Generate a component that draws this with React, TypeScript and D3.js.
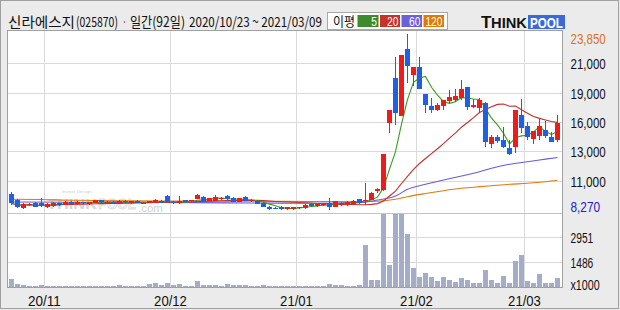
import React, { useLayoutEffect, useRef, useState } from "react";
import * as d3 from "d3";

// ---------- DATA ----------
const stockName = "신라에스지";
const stockCode = "(025870)";
const periodText = "일간(92일)";
const rangeText = "2020/10/23 ~ 2021/03/09";

const monthLabels = ["20/10", "20/11", "20/12", "21/01", "21/02", "21/03"];
const monthDays = [
  [23, 26, 27, 28, 29, 30],
  [2, 3, 4, 5, 6, 9, 10, 11, 12, 13, 16, 17, 18, 19, 20, 23, 24, 25, 26, 27, 30],
  [1, 2, 3, 4, 7, 8, 9, 10, 11, 14, 15, 16, 17, 18, 21, 22, 23, 24, 28, 29, 30],
  [4, 5, 6, 7, 8, 11, 12, 13, 14, 15, 18, 19, 20, 21, 22, 25, 26, 27, 28, 29],
  [1, 2, 3, 4, 5, 8, 9, 10, 15, 16, 17, 18, 19, 22, 23, 24, 25, 26],
  [2, 3, 4, 5, 8, 9],
];

const opens = [
  9690, 9160, 8420, 8670, 8920, 8920, 8510, 8630, 8860, 8740,
  8980, 8780, 8950, 8800, 8920, 9130, 8890, 9010, 8860, 9070,
  8860, 9070, 8920, 8890, 8920, 9090, 9510, 9010, 8860, 9160,
  9040, 9270, 9450, 9090, 9090, 9250, 9510, 9310, 9010, 9450,
  9070, 9090, 8920, 8560, 8470, 8560, 8330, 8330, 8420, 8420,
  8800, 8630, 8710, 8860, 8560, 8710, 8710, 8800, 9220, 9040,
  9180, 9930, 10070, 15950, 19950, 16600, 22550, 20200, 20900, 18550,
  17500, 17150, 17500, 17950, 18050, 18150, 19150, 17400, 17300, 17700,
  14100, 14700, 14450, 13750, 13850, 16700, 15700, 14550, 14800, 15350,
  14700, 14500,
];
const highs = [
  9890, 9200, 8850, 8890, 8980, 9310, 8850, 8980, 8920, 9070,
  9070, 9040, 9010, 9010, 9180, 9160, 9070, 9090, 9160, 9130,
  9090, 9130, 8980, 9090, 9220, 9160, 9600, 9070, 9480, 9180,
  9180, 9690, 9510, 9250, 9600, 9400, 9630, 9420, 9360, 9510,
  9220, 9160, 9010, 8650, 8540, 8650, 8540, 8540, 8560, 8830,
  8860, 8860, 8860, 9310, 9090, 8980, 9040, 9130, 9270, 10660,
  9860, 10250, 13200, 17150, 21850, 21950, 23850, 20900, 21850, 18550,
  18200, 17750, 18050, 18900, 19000, 19800, 19150, 18100, 18150, 17800,
  14900, 14900, 15650, 14450, 17150, 18100, 16100, 15250, 16300, 16150,
  15200, 16700,
];
const lows = [
  8710, 8450, 8330, 8580, 8510, 8560, 8450, 8560, 8650, 8710,
  8740, 8710, 8800, 8740, 8860, 8890, 8830, 8860, 8800, 8890,
  8830, 8890, 8830, 8860, 8890, 8890, 8980, 8800, 8800, 8980,
  8980, 9220, 9070, 9040, 9040, 9180, 9180, 8980, 8980, 9070,
  9010, 8780, 8540, 8270, 8330, 8300, 8300, 8300, 8360, 8360,
  8560, 8560, 8650, 8300, 8540, 8650, 8650, 8780, 8830, 8740,
  9130, 9780, 9930, 15100, 15800, 16550, 19500, 19250, 19000, 16900,
  16850, 17000, 17100, 17750, 17850, 18000, 17100, 17300, 16950, 13850,
  13800, 14200, 13750, 13150, 13350, 15050, 14450, 14100, 14450, 14600,
  14300, 14300,
];
const closes = [
  8860, 8510, 8780, 8800, 8560, 8630, 8800, 8920, 8710, 9010,
  8800, 8980, 8860, 8950, 9160, 8950, 9010, 8920, 9070, 8950,
  9070, 8920, 8860, 9070, 9160, 8920, 9010, 8860, 9040, 9010,
  9160, 9570, 9090, 9310, 9400, 9310, 9220, 9010, 9310, 9090,
  9160, 8800, 8560, 8330, 8360, 8330, 8510, 8510, 8510, 8710,
  8630, 8800, 8860, 8560, 9070, 8920, 9010, 9070, 8860, 9180,
  9780, 10150, 13200, 17150, 16900, 21950, 21000, 20900, 19000, 17600,
  17150, 17550, 18000, 18250, 18350, 18950, 17400, 17550, 18000, 14300,
  14750, 14400, 13850, 13200, 17150, 15550, 14700, 15250, 15700, 14850,
  14300, 16000,
];
// volume in thousands of shares
const volumes = [
  505, 210, 150, 90, 90, 150, 80, 80, 80, 90,
  80, 80, 80, 80, 90, 80, 80, 80, 150, 90,
  90, 80, 90, 210, 285, 150, 285, 150, 210, 100,
  100, 390, 150, 150, 150, 90, 210, 150, 150, 150,
  100, 90, 150, 90, 90, 80, 80, 80, 80, 90,
  80, 80, 90, 210, 150, 150, 90, 90, 150, 2470,
  446, 446, 6800, 1338, 7500, 5600, 3120, 1142, 606, 844,
  606, 386, 643, 446, 310, 583, 446, 270, 270, 1000,
  446, 235, 684, 235, 1535, 1891, 386, 270, 803, 270,
  270, 583,
];

// long moving averages: [day index, price]
const ma60Read = [
  [0, 8980], [10, 8950], [20, 8935], [30, 8920], [40, 8890], [50, 8865], [58, 8920],
  [61, 9155], [64, 9500], [66, 10100], [69, 10545], [72, 10925], [75, 11280],
  [78, 11660], [80, 11960], [83, 12315], [86, 12545], [89, 12770], [91, 12920],
];
const ma120Read = [
  [0, 9220], [5, 9200], [10, 9130], [20, 9085], [30, 9065], [40, 9040], [50, 9025],
  [58, 9005], [61, 9040], [64, 9220], [66, 9450], [69, 9730], [72, 9980], [75, 10190],
  [78, 10335], [80, 10420], [83, 10545], [86, 10635], [89, 10775], [91, 10900],
];

const priceMax = 23850;
const priceMin = 8270;
const priceMaxLabel = "23,850";
const priceMinLabel = "8,270";
const priceGridLabels = ["21,000", "19,000", "16,000", "13,000", "11,000"];
const volScaleMax = 4307;
const volGridValues = [2951, 1486];
const volUnitLabel = "x1000";
const legendTitle = "이평";
const legendLabels = ["5", "20", "60", "120"];
const maPeriods = [5, 20];

// ---------- STYLE ----------
const RED = "#f01a1a";
const BLUE = "#1f5fe2";
const MA_COLORS = ["#3d9a22", "#c0302c", "#6a58e0", "#e07810"];
const LEGEND_COLORS = ["#3d8b2a", "#c8322c", "#6b5fdc", "#dd7a0a"];
const GRID = "#dadada";
const BG = "#ebebeb";
const FRAME = "#a0a0a0";
const NUM_FONT = "'Liberation Sans', Arial, sans-serif";
const KR_FONT = "'Noto Sans CJK KR', 'Noto Sans', sans-serif";

const charW: Record<string, number> = { ",": 6.8, x: 6.5, "/": 10, ".": 3, " ": 4 };
const numWidth = (s: string) => s.split("").reduce((a, ch) => a + (charW[ch] ?? 5.7), 0);

// text squeezed horizontally to a target width (narrow bitmap-style font look)
function FitText(props: {
  x: number;
  y: number;
  width: number;
  children: React.ReactNode;
  fontFamily?: string;
  fontSize?: number;
  fontWeight?: string;
  fill?: string;
  stroke?: string;
  strokeWidth?: number;
}) {
  const { x, y, width, children, ...rest } = props;
  const ref = useRef<SVGTextElement>(null);
  const [s, setS] = useState(1);
  useLayoutEffect(() => {
    if (ref.current) {
      const n = ref.current.getComputedTextLength();
      if (n > 0) setS(width / n);
    }
  }, [width, children]);
  return (
    <text ref={ref} transform={`translate(${x},${y}) scale(${s},1)`} {...rest}>
      {children}
    </text>
  );
}

export default function App() {
  const W = 620, H = 310;
  const plotL = 7.5, plotR = 562.5, plotT = 30.5, priceB = 213.5, volB = 287.5;

  const dates = monthLabels.flatMap((m, k) =>
    monthDays[k].map((d) => `${m}/${String(d).padStart(2, "0")}`)
  );
  const idx = d3.range(dates.length);
  const x = d3.scaleBand<number>().domain(idx).range([8.5, 560.5]).padding(0);
  const xc = (i: number) => (x(i) as number) + x.bandwidth() / 2;
  const yP = d3.scaleLinear().domain([priceMin, priceMax]).range([210, 34]);
  const yV = d3.scaleLinear().domain([0, volScaleMax]).range([volB, 214]);

  const monthTicks = idx.filter((i) => i > 0 && dates[i].slice(0, 5) !== dates[i - 1].slice(0, 5));

  const maComputed = maPeriods.map((n) =>
    closes.map((_, i) => d3.mean(closes.slice(Math.max(0, i - n + 1), i + 1)) as number)
  );
  const lineIdx = d3
    .line<number>()
    .x((_, i) => xc(i))
    .y((v) => yP(v));
  const lineRead = d3
    .line<number[]>()
    .x((d) => xc(d[0]))
    .y((d) => yP(d[1]))
    .curve(d3.curveMonotoneX);

  const gridVals = d3.range(1, 6).map((k) => priceMax - (k * (priceMax - priceMin)) / 6);

  const legendBoxes = [
    { x: 357.5, w: 21 },
    { x: 380, w: 20 },
    { x: 401.5, w: 20.5 },
    { x: 423.5, w: 20.5 },
  ];

  return (
    <svg
      width={W}
      height={H}
      viewBox={`0 0 ${W} ${H}`}
      style={{ position: "absolute", left: 0, top: 0, display: "block" }}
    >
      <defs>
        <clipPath id="pricePane">
          <rect x={8} y={31} width={554} height={182} />
        </clipPath>
        <clipPath id="volPane">
          <rect x={8} y={214} width={554} height={73.5} />
        </clipPath>
      </defs>
      <rect x={0} y={0} width={W} height={H} fill={BG} />
      <rect x={0.5} y={0.5} width={618} height={308} fill="none" stroke={FRAME} strokeWidth={1} />

      {/* header */}
      <g fontFamily={KR_FONT} fontSize={14} fill="#111">
        <FitText x={8} y={26.5} width={67}>{stockName}</FitText>
        <FitText x={76} y={26.5} width={42}>{stockCode}</FitText>
        <FitText x={123} y={26.5} width={3}>·</FitText>
        <FitText x={130} y={26.5} width={55}>{periodText}</FitText>
        <FitText x={189} y={26.5} width={133}>{rangeText}</FitText>
      </g>

      {/* MA legend */}
      <rect x={327.5} y={12.5} width={120} height={17} fill="#fff" stroke="#a8a8a8" />
      <FitText x={333} y={26} width={22} fontFamily={KR_FONT} fontSize={13} fill="#111">
        {legendTitle}
      </FitText>
      {legendLabels.map((lab, k) => (
        <g key={lab}>
          <rect x={legendBoxes[k].x} y={15} width={legendBoxes[k].w} height={12} fill={LEGEND_COLORS[k]} />
          <FitText
            x={legendBoxes[k].x + legendBoxes[k].w - 1.5 - numWidth(lab)}
            y={26}
            width={numWidth(lab)}
            fontFamily={NUM_FONT}
            fontSize={13}
            fill="#fff"
          >
            {lab}
          </FitText>
        </g>
      ))}

      {/* logo */}
      <g fontFamily={NUM_FONT} fontWeight="bold">
        <text x={481} y={28} fontSize={17} fill="#111">T</text>
        <FitText x={491} y={28} width={36} fontSize={14} fill="#111">HINK</FitText>
        <rect x={528} y={15} width={37} height={14} fill="#3a6ad8" />
        <FitText x={530} y={28} width={33} fontSize={15} fill="#fff">POOL</FitText>
      </g>

      {/* plot background */}
      <rect x={plotL} y={plotT} width={plotR - plotL} height={volB - plotT} fill="#fff" />

      {/* grid */}
      {gridVals.map((v, k) => (
        <line key={k} x1={8} x2={562} y1={Math.round(yP(v)) + 0.5} y2={Math.round(yP(v)) + 0.5} stroke={GRID} />
      ))}
      {volGridValues.map((v) => (
        <line key={v} x1={8} x2={562} y1={Math.round(yV(v)) + 0.5} y2={Math.round(yV(v)) + 0.5} stroke={GRID} />
      ))}
      {monthTicks.map((i) => (
        <line key={i} x1={x(i) as number} x2={x(i) as number} y1={31} y2={287} stroke={GRID} />
      ))}

      {/* watermark */}
      <g>
        <FitText x={62} y={193} width={30} fontFamily={NUM_FONT} fontSize={3.5} fill="#cfcfcf">Invest Design</FitText>
        <FitText x={47} y={209} width={50} fontFamily={NUM_FONT} fontWeight="bold" fontSize={15} fill="#d6d6d6">THINK</FitText>
        <FitText x={98} y={209} width={38} fontFamily={NUM_FONT} fontWeight="bold" fontSize={15} fill="#f2f2f2" stroke="#dcdcdc" strokeWidth={0.8}>POOL</FitText>
        <FitText x={138} y={212} width={25} fontFamily={NUM_FONT} fontSize={11} fill="#d0d0d0">.com</FitText>
      </g>

      {/* volume bars */}
      <g clipPath="url(#volPane)" shapeRendering="crispEdges">
        {volumes.map((v, i) => (
          <rect key={i} x={xc(i) - 2.5} y={yV(v)} width={5} height={volB - yV(v)} fill="#a4acc8" />
        ))}
      </g>

      {/* moving averages */}
      <g clipPath="url(#pricePane)" fill="none" strokeWidth={1.1}>
        <path d={lineRead(ma120Read) || ""} stroke={MA_COLORS[3]} />
        <path d={lineRead(ma60Read) || ""} stroke={MA_COLORS[2]} />
        <path d={lineIdx(maComputed[1]) || ""} stroke={MA_COLORS[1]} />
        <path d={lineIdx(maComputed[0]) || ""} stroke={MA_COLORS[0]} />
      </g>

      {/* candles */}
      <g clipPath="url(#pricePane)" shapeRendering="crispEdges">
        {idx.map((i) => {
          const o = opens[i], c = closes[i], h = highs[i], l = lows[i];
          const col = c >= o ? RED : BLUE;
          const cx = xc(i);
          const top = yP(Math.max(o, c));
          const bot = yP(Math.min(o, c));
          return (
            <g key={i} fill={col}>
              <rect x={cx - 0.5} y={yP(h)} width={1} height={Math.max(1, yP(l) - yP(h))} />
              <rect x={cx - 2.5} y={top} width={5} height={Math.max(1, bot - top)} />
            </g>
          );
        })}
      </g>

      {/* pane separator and frame */}
      <line x1={8} x2={562} y1={priceB} y2={priceB} stroke="#c4c4c4" />
      <rect x={plotL} y={plotT} width={plotR - plotL} height={volB - plotT} fill="none" stroke={FRAME} />

      {/* right axis labels */}
      <g fontFamily={NUM_FONT} fontSize={14}>
        <FitText x={570.5} y={43.5} width={numWidth(priceMaxLabel)} fill="#d9731b">
          {priceMaxLabel}
        </FitText>
        {gridVals.map((v, k) => (
          <FitText key={k} x={570.5} y={yP(v) + 6} width={numWidth(priceGridLabels[k])} fill="#111">
            {priceGridLabels[k]}
          </FitText>
        ))}
        <FitText x={570.5} y={211.5} width={numWidth(priceMinLabel)} fill="#2222c8">
          {priceMinLabel}
        </FitText>
        {volGridValues.map((v) => (
          <FitText key={v} x={570.5} y={yV(v) + 6.2} width={numWidth(String(v))} fill="#111">
            {String(v)}
          </FitText>
        ))}
        <FitText x={570.5} y={290} width={numWidth(volUnitLabel)} fill="#111">
          {volUnitLabel}
        </FitText>
      </g>

      {/* x axis labels */}
      <g fontFamily={NUM_FONT} fontSize={14} fill="#111">
        {monthTicks.map((i) => {
          const lab = dates[i].slice(0, 5);
          const w = numWidth(lab);
          return (
            <FitText key={i} x={(x(i) as number) - w / 2} y={306} width={w}>
              {lab}
            </FitText>
          );
        })}
      </g>
    </svg>
  );
}
